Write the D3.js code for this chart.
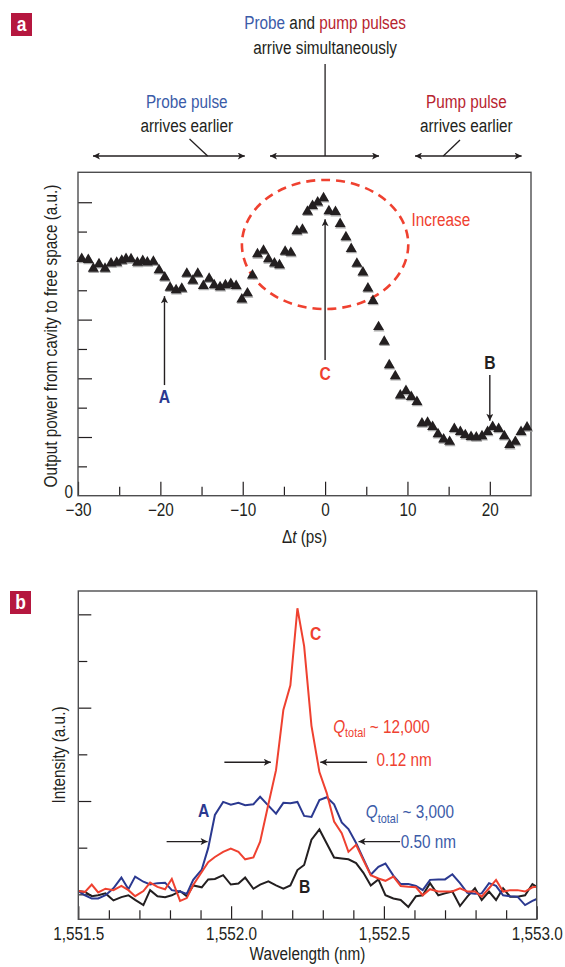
<!DOCTYPE html>
<html>
<head>
<meta charset="utf-8">
<script src="https://cdn.jsdelivr.net/npm/d3@7"></script>
<style>
  body{ margin:0; background:#fff; }
  svg{ display:block; font-family:"Liberation Sans",Arial,sans-serif; }
</style>
</head>
<body>
<svg id="chart" width="565" height="967"></svg>
<script>
// ============ Data ============
// panel a: output power vs pump/probe delay (arbitrary units, 1 unit = 1 tick)
const delayPs = [
  -29.55,-28.75,-28.14,-27.45,-26.72,-25.99,-25.30,-24.69,-24.17,-23.56,
  -22.79,-22.14,-21.58,-20.85,-20.16,-19.47,-18.82,-18.09,-17.40,-16.79,
  -16.06,-15.46,-14.78,-14.08,-13.47,-12.75,-12.10,-11.45,-10.80,-10.11,
  -9.43,-8.82,-8.21,-7.48,-6.88,-6.15,-5.54,-4.85,-4.16,-3.43,
  -2.75,-2.14,-1.53,-0.90,-0.19,0.46,1.26,1.83,2.53,3.17,
  3.86,4.59,5.20,5.81,6.49,7.18,7.79,8.52,9.13,9.82,
  10.46,11.15,11.76,12.44,13.05,13.71,14.39,15.12,15.69,16.42,
  17.02,17.72,18.36,19.05,19.73,20.34,21.07,21.76,22.41,23.10,
  23.79,24.52
];
const outputPower = [
  8.07,8.04,7.74,7.89,7.74,7.92,7.94,8.01,8.07,8.06,
  7.94,8.00,7.95,7.98,7.69,7.44,7.09,7.01,7.06,7.57,
  7.33,7.57,7.15,7.40,7.18,7.11,7.18,7.22,7.15,6.69,
  6.90,7.51,8.23,8.35,8.06,7.92,7.86,8.32,8.28,9.02,
  9.07,9.68,9.88,10.00,10.14,9.70,9.67,9.26,8.81,8.41,
  7.91,7.61,7.07,6.64,5.75,5.25,4.45,4.08,3.42,3.57,
  3.37,3.20,2.47,2.49,2.35,2.10,1.92,1.84,2.28,2.18,
  2.07,2.01,1.99,2.03,2.18,2.35,2.28,2.03,1.73,1.84,
  2.18,2.33
];
const delayMajorTicks = [-30, -20, -10, 0, 10, 20];
const delayMinorTicks = [-25, -15, -5, 5, 15];
const powerMajorTicks = [2, 4, 6, 8, 10];
const powerMinorTicks = [1, 3, 5, 7, 9];

// panel b: spectra at delays A, B, C
const wavelengthNm = [
  1551.500,1551.522,1551.544,1551.565,1551.589,1551.615,1551.641,1551.664,1551.686,1551.713,
  1551.735,1551.759,1551.784,1551.806,1551.833,1551.855,1551.876,1551.904,1551.925,1551.947,
  1551.974,1551.999,1552.024,1552.046,1552.073,1552.095,1552.122,1552.147,1552.171,1552.194,
  1552.217,1552.239,1552.263,1552.289,1552.313,1552.337,1552.362,1552.384,1552.409,1552.433,
  1552.457,1552.482,1552.505,1552.531,1552.555,1552.580,1552.605,1552.627,1552.651,1552.678,
  1552.700,1552.724,1552.749,1552.773,1552.798,1552.820,1552.844,1552.867,1552.890,1552.913,
  1552.937,1552.962,1552.986,1553.000
];
const spectrumB = [
  0.07,0.05,-0.04,-0.02,0.02,-0.13,-0.06,-0.02,-0.12,-0.23,
  0.09,-0.04,-0.06,-0.02,0.07,-0.04,0.19,0.15,0.32,0.33,
  0.41,0.21,0.23,0.36,0.12,0.21,0.28,0.19,0.12,0.19,
  0.52,0.63,1.17,1.39,1.09,0.79,0.77,0.75,0.67,0.46,
  0.19,0.32,-0.02,-0.09,-0.12,-0.27,-0.04,-0.02,0.24,-0.02,
  0.02,0.06,-0.25,-0.05,0.13,-0.12,0.06,-0.12,0.13,-0.05,
  -0.05,-0.02,0.22,0.16
];
const spectrumA = [
  0.07,-0.02,-0.09,-0.09,-0.02,0.13,0.36,0.11,0.38,0.27,
  0.21,0.24,0.25,0.09,0.06,0.01,0.31,0.53,0.99,1.70,
  1.98,1.92,1.96,1.91,1.93,2.09,1.90,1.73,1.96,1.95,
  1.98,1.68,1.66,2.02,2.08,1.93,1.54,1.40,1.10,0.76,
  0.42,0.59,0.66,0.40,0.22,0.22,0.18,0.09,0.31,0.32,
  0.32,0.43,0.24,0.03,0.01,0.02,0.24,0.18,-0.02,-0.04,
  -0.05,-0.23,-0.14,-0.10
];
const spectrumC = [
  0.07,0.05,0.21,0.04,0.12,0.09,0.18,0.09,-0.04,0.07,
  0.25,0.16,0.11,0.33,-0.14,-0.08,0.20,0.48,0.69,0.80,
  0.91,0.98,0.91,0.75,0.79,1.13,1.93,2.66,3.95,4.48,
  6.13,5.32,3.61,2.62,2.17,1.56,1.31,0.91,1.06,0.73,
  0.41,0.34,0.29,0.38,0.18,0.16,0.15,-0.02,0.11,0.06,
  0.06,0.06,0.13,0.06,0.06,-0.05,0.13,0.31,0.06,0.09,
  0.09,0.06,0.15,0.16
];
const wlMajorTicks = [1551.5, 1552.0, 1552.5, 1553.0];
const wlMinorTicks = [1551.6,1551.7,1551.8,1551.9,1552.1,1552.2,1552.3,1552.4,1552.6,1552.7,1552.8,1552.9];
const intMajorTicks = [0, 2, 4, 6];
const intMinorTicks = [1, 3, 5];

// ============ Style ============
const INK = "#231f20";
const FRAME = "#4d4d4f";
const BLUE_TXT = "#3b5ba8";
const BLUE_LINE = "#2b3990";
const RED = "#ef4130";
const DARK_RED = "#b7242f";
const BADGE = "#b5173f";
const FS = 17.6;
const SX = 0.87;   // horizontal squeeze to mimic the condensed sans of the original

const svg = d3.select("#chart");

svg.append("defs").append("marker")
  .attr("id", "arrow")
  .attr("viewBox", "0 0 10 10")
  .attr("refX", 10).attr("refY", 5)
  .attr("markerUnits", "userSpaceOnUse")
  .attr("markerWidth", 9).attr("markerHeight", 7)
  .attr("orient", "auto-start-reverse")
  .append("path").attr("d", "M0,0L10,5L0,10L2.5,5Z").attr("fill", INK);

function badge(x, y, letter){
  svg.append("rect").attr("x", x).attr("y", y).attr("width", 21).attr("height", 23).attr("fill", BADGE);
  svg.append("text").attr("transform", `translate(${x + 10.5},${y + 18}) scale(${SX},1)`)
    .attr("text-anchor", "middle")
    .attr("font-size", 20).attr("font-weight", "bold").attr("fill", "#fff").text(letter);
}

function arrow(x1, y1, x2, y2, both){
  const l = svg.append("line").attr("x1", x1).attr("y1", y1).attr("x2", x2).attr("y2", y2)
    .attr("stroke", INK).attr("stroke-width", 1.4).attr("marker-end", "url(#arrow)");
  if(both) l.attr("marker-start", "url(#arrow)");
}
function seg(x1, y1, x2, y2){
  svg.append("line").attr("x1", x1).attr("y1", y1).attr("x2", x2).attr("y2", y2)
    .attr("stroke", INK).attr("stroke-width", 1.3);
}
// condensed text placed at (x, y)
function ctext(x, y, rot){
  return svg.append("text")
    .attr("transform", `translate(${x},${y})${rot ? " rotate(" + rot + ")" : ""} scale(${SX},1)`)
    .attr("font-size", FS);
}
function label(x, y, txt, color, opts){
  opts = opts || {};
  return ctext(x, y)
    .attr("text-anchor", opts.anchor || "middle")
    .attr("font-size", opts.size || FS)
    .attr("font-weight", opts.bold ? "bold" : null)
    .attr("fill", color).text(txt);
}

function styleAxis(g){
  g.attr("font-family", null).attr("font-size", FS);
  g.select(".domain").remove();
  g.selectAll(".tick line").attr("stroke", INK).attr("stroke-width", 1.2);
  g.selectAll(".tick text").attr("fill", INK).attr("transform", `scale(${SX},1)`);
}

// ============ Panel a ============
const A = { left: 78, right: 531, top: 172.3, bottom: 495.7 };
const xA = d3.scaleLinear().domain([-30, 25]).range([A.left, A.right]);
const yA = d3.scaleLinear().domain([0, 11.02]).range([A.bottom, A.top]);

badge(11, 13, "a");

svg.append("g").attr("transform", `translate(0,${A.bottom})`)
  .call(d3.axisBottom(xA).tickValues(delayMajorTicks).tickSize(-14).tickPadding(8))
  .call(styleAxis);
svg.append("g").attr("transform", `translate(0,${A.bottom})`)
  .call(d3.axisBottom(xA).tickValues(delayMinorTicks).tickSize(-9).tickFormat(""))
  .call(styleAxis);
svg.append("g").attr("transform", `translate(${A.left},0)`)
  .call(d3.axisLeft(yA).tickValues(powerMajorTicks).tickSize(-14).tickFormat(""))
  .call(styleAxis);
svg.append("g").attr("transform", `translate(${A.left},0)`)
  .call(d3.axisLeft(yA).tickValues(powerMinorTicks).tickSize(-9).tickFormat(""))
  .call(styleAxis);
label(A.left - 5, yA(0) + 2.5, "0", INK, { anchor: "end" });

svg.append("rect").attr("x", A.left).attr("y", A.top)
  .attr("width", A.right - A.left).attr("height", A.bottom - A.top)
  .attr("fill", "none").attr("stroke", FRAME).attr("stroke-width", 1.4);

// dashed "Increase" ellipse
svg.append("ellipse")
  .attr("cx", xA(0)).attr("cy", yA(8.56))
  .attr("rx", xA(10.1) - xA(0)).attr("ry", yA(0) - yA(2.2))
  .attr("fill", "none").attr("stroke", RED).attr("stroke-width", 2.6)
  .attr("stroke-dasharray", "9,6");
label(xA(10.5), yA(9.2), "Increase", RED, { anchor: "start" });

// triangles (with faint print shadow)
const tri = d3.symbol().type(d3.symbolTriangle).size(52);
const pts = d3.zip(delayPs, outputPower);
svg.append("g").selectAll("path").data(pts).join("path")
  .attr("transform", d => `translate(${xA(d[0]) + 0.5},${yA(d[1]) + 1.3})`)
  .attr("d", tri).attr("fill", "#a7a7a7");
svg.append("g").selectAll("path").data(pts).join("path")
  .attr("transform", d => `translate(${xA(d[0])},${yA(d[1])})`)
  .attr("d", tri).attr("fill", INK);

// A, B, C markers
arrow(xA(-19.5), yA(3.77), xA(-19.5), yA(6.8));
label(xA(-19.5), yA(3.16), "A", BLUE_LINE, { bold: true, size: 18 });
arrow(xA(0), yA(4.62), xA(0), yA(9.42));
label(xA(0), yA(3.94), "C", RED, { bold: true, size: 18 });
arrow(xA(20), yA(4.11), xA(20), yA(2.55));
label(xA(20), yA(4.32), "B", INK, { bold: true, size: 18 });

// top annotations
const t1 = ctext(xA(0), 28.5).attr("text-anchor", "middle");
t1.append("tspan").attr("fill", BLUE_TXT).text("Probe");
t1.append("tspan").attr("fill", INK).text(" and ");
t1.append("tspan").attr("fill", DARK_RED).text("pump pulses");
label(xA(0), 53.5, "arrive simultaneously", INK);
seg(xA(0), 64, xA(0), 156);
arrow(xA(-6.69), 156, xA(6.55), 156, true);

label(xA(-16.8), 107.5, "Probe pulse", BLUE_TXT);
label(xA(-16.8), 132, "arrives earlier", INK);
arrow(xA(-28.18), 156, xA(-9.75), 156, true);
seg(xA(-16.46), 139, xA(-14.26), 156);

label(xA(17.15), 107.5, "Pump pulse", DARK_RED);
label(xA(17.15), 132, "arrives earlier", INK);
arrow(xA(10.92), 156, xA(23.86), 156, true);
seg(xA(16.38), 140, xA(14.35), 156);

// axis titles
const xt = ctext((A.left + A.right) / 2, 543).attr("text-anchor", "middle").attr("fill", INK);
xt.append("tspan").text("\u0394");
xt.append("tspan").attr("font-style", "italic").text("t");
xt.append("tspan").text(" (ps)");
ctext(56.5, (A.top + A.bottom) / 2 + 2, -90)
  .attr("text-anchor", "middle").attr("fill", INK)
  .text("Output power from cavity to free space (a.u.)");

// ============ Panel b ============
const B = { left: 78.3, right: 536.7, top: 591, bottom: 919.3 };
const xB = d3.scaleLinear().domain([1551.5, 1553.0]).range([B.left, B.right]);
const yB = d3.scaleLinear().domain([-0.535, 6.5]).range([B.bottom, B.top]);

badge(10, 591, "b");

svg.append("g").attr("transform", `translate(0,${B.bottom})`)
  .call(d3.axisBottom(xB).tickValues(wlMajorTicks).tickSize(-13).tickPadding(8).tickFormat(d3.format(",.1f")))
  .call(styleAxis);
svg.append("g").attr("transform", `translate(0,${B.bottom})`)
  .call(d3.axisBottom(xB).tickValues(wlMinorTicks).tickSize(-9).tickFormat(""))
  .call(styleAxis);
svg.append("g").attr("transform", `translate(${B.left},0)`)
  .call(d3.axisLeft(yB).tickValues(intMajorTicks).tickSize(-13).tickFormat(""))
  .call(styleAxis);
svg.append("g").attr("transform", `translate(${B.left},0)`)
  .call(d3.axisLeft(yB).tickValues(intMinorTicks).tickSize(-9).tickFormat(""))
  .call(styleAxis);

const line = d3.line().x((d, i) => xB(wavelengthNm[i])).y(d => yB(d));
[[spectrumB, INK], [spectrumA, BLUE_LINE], [spectrumC, RED]].forEach(([vals, color]) => {
  svg.append("path").datum(vals).attr("d", line)
    .attr("fill", "none").attr("stroke", color).attr("stroke-width", 2)
    .attr("stroke-linejoin", "miter");
});

svg.append("rect").attr("x", B.left).attr("y", B.top)
  .attr("width", B.right - B.left).attr("height", B.bottom - B.top)
  .attr("fill", "none").attr("stroke", FRAME).attr("stroke-width", 1.4);

// linewidth annotations
arrow(xB(1551.978), yB(2.83), xB(1552.130), yB(2.83));
arrow(xB(1552.445), yB(2.83), xB(1552.292), yB(2.83));
label(xB(1552.476), yB(2.75), "0.12 nm", RED, { anchor: "start" });
label(xB(1552.258), yB(5.45), "C", RED, { anchor: "start", bold: true, size: 18 });

arrow(xB(1551.789), yB(1.13), xB(1551.923), yB(1.13));
arrow(xB(1552.553), yB(1.13), xB(1552.417), yB(1.13));
label(xB(1552.555), yB(0.99), "0.50 nm", BLUE_TXT, { anchor: "start" });
label(xB(1551.892), yB(1.66), "A", BLUE_LINE, { anchor: "start", bold: true, size: 18 });
label(xB(1552.222), yB(0.03), "B", INK, { anchor: "start", bold: true, size: 18 });

function qLabel(nm, val, rest, color){
  const t = ctext(xB(nm), yB(val)).attr("fill", color);
  t.append("tspan").attr("font-style", "italic").text("Q");
  t.append("tspan").attr("font-size", 12.5).attr("dy", 4.5).text("total");
  t.append("tspan").attr("dy", -4.5).text(" ~ " + rest);
}
qLabel(1552.334, 3.46, "12,000", RED);
qLabel(1552.441, 1.63, "3,000", BLUE_TXT);

ctext((B.left + B.right) / 2, 960)
  .attr("text-anchor", "middle").attr("fill", INK)
  .text("Wavelength (nm)");
ctext(65, 755, -90)
  .attr("text-anchor", "middle").attr("fill", INK)
  .text("Intensity (a.u.)");
</script>
</body>
</html>
